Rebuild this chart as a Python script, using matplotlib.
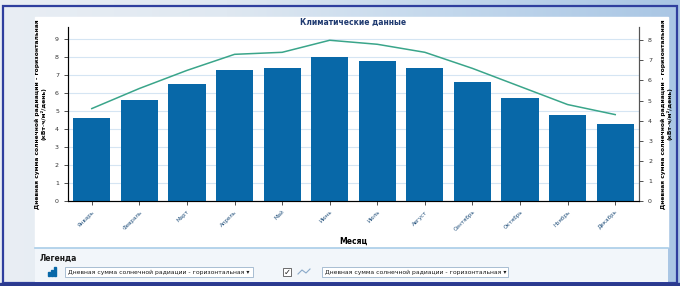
import matplotlib
matplotlib.use('Agg')
import matplotlib.pyplot as plt
import numpy as np
from matplotlib.patches import Rectangle
from matplotlib.colors import LinearSegmentedColormap

plt.rcParams['font.family'] = ['Liberation Sans Narrow', 'DejaVu Sans']

months = ['Январь', 'Февраль', 'Март', 'Апрель', 'Май', 'Июнь',
          'Июль', 'Август', 'Сентябрь', 'Октябрь', 'Ноябрь', 'Декабрь']
radiation = [4.6, 5.6, 6.5, 7.3, 7.4, 8.0, 7.8, 7.4, 6.6, 5.7, 4.8, 4.3]
left_ticks = list(range(0, 10))
right_ticks = list(range(0, 9))
series_name = 'Дневная сумма солнечной радиации - горизонтальная'
ylabel = series_name + '\n(кВт·ч/м²/день)'

W, H = 680, 286
fig = plt.figure(figsize=(W / 100, H / 100), dpi=100)


def fx(px):
    return px / W


def fy(py):
    return 1 - py / H


# background (sky-like gradient)
bg = fig.add_axes([0, 0, 1, 1])
grad = np.linspace(0, 1, 256)[None, :]
sky = LinearSegmentedColormap.from_list('sky', ['#e9eef4', '#dfe8f1', '#c2d7ec', '#a9c6e4'])
bg.imshow(grad, aspect='auto', cmap=sky, extent=[0, 1, 0, 1])
bg.set_xlim(0, 1)
bg.set_ylim(0, 1)
bg.axis('off')
# outer frame
bg.add_patch(Rectangle((fx(3), fy(283)), fx(674), (283 - 6) / H, fill=False,
                       ec='#2f3f9e', lw=1.6))
bg.add_patch(Rectangle((0, 0), 1, 3 / H, color='#2b3a8e'))
# white chart panel
bg.add_patch(Rectangle((fx(35), fy(247)), fx(633), (247 - 17) / H, color='white'))
# legend panel
bg.add_patch(Rectangle((fx(35), fy(282)), fx(633), (282 - 248) / H, fc='#f2f6fa',
                       ec='none'))
bg.plot([fx(35), fx(668)], [fy(248), fy(248)], color='#a9cde8', lw=1.2)
bg.text(fx(40), fy(258), 'Легенда', fontsize=5.5, fontweight='bold', color='#1a1a1a',
        va='center')
# legend items
for i, h in enumerate([3, 5, 7]):
    bg.add_patch(Rectangle((fx(48 + i * 3), fy(276)), fx(2), h * 1.3 / H, color='#0868a8'))
bg.add_patch(Rectangle((fx(65), fy(277)), fx(188), 10 / H, fc='white', ec='#9bb4cc', lw=0.6))
bg.text(fx(68), fy(272), series_name + ' ▾', fontsize=4.4, va='center', color='#1a1a1a')
bg.add_patch(Rectangle((fx(283), fy(276)), fx(8), 8 / H, fc='white', ec='#555555', lw=0.6))
bg.text(fx(287), fy(272.5), '✓', fontsize=6, ha='center', va='center', color='#222222',
        family='DejaVu Sans')
bg.plot([fx(298), fx(302), fx(306), fx(310)], [fy(274), fy(270), fy(273), fy(269)],
        color='#8aa9c9', lw=0.8)
bg.add_patch(Rectangle((fx(322), fy(277)), fx(186), 10 / H, fc='white', ec='#9bb4cc', lw=0.6))
bg.text(fx(325), fy(272), series_name + ' ▾', fontsize=4.4, va='center', color='#1a1a1a')

# chart
ax = fig.add_axes([fx(68), fy(201), fx(639 - 68), (201 - 27) / H])
ax.set_facecolor('white')
x = np.arange(len(months))
ax.bar(x, radiation, width=0.78, color='#0868a8', zorder=3)
ax.set_xlim(-0.5, len(months) - 0.5)
ax.set_ylim(0, 9.67)
ax.set_yticks(left_ticks)
ax.grid(axis='y', color='#d5e5f3', lw=0.8, zorder=0)
ax.set_xticks(x)
ax.set_xticklabels(months, rotation=45, ha='right', rotation_mode='anchor',
                   fontsize=4.0, color='#1f4e7a')
ax.tick_params(axis='y', labelsize=4.5, length=3, width=0.6, colors='#333333')
ax.tick_params(axis='x', length=3, width=0.6, pad=3, colors='#333333',
               labelcolor='#1f4e7a')
ax.spines['top'].set_visible(False)
for s in ['left', 'bottom', 'right']:
    ax.spines[s].set_color('#555555')
    ax.spines[s].set_linewidth(0.8)
ax.set_xlabel('Месяц', fontsize=5.5, fontweight='bold', labelpad=3)
ax.set_ylabel(ylabel, fontsize=4.3, fontweight='bold', labelpad=6, linespacing=1.15)
ax.set_title('Климатические данные', fontsize=5.5, fontweight='bold',
             color='#1f3a70', pad=1)

ax2 = ax.twinx()
ax2.plot(x, radiation, color='#3aa58a', lw=1.1, zorder=4)
ax2.set_ylim(0, 8.66)
ax2.set_yticks(right_ticks)
ax2.tick_params(axis='y', labelsize=4.5, length=3, width=0.6, colors='#333333')
ax2.spines['top'].set_visible(False)
ax2.spines['right'].set_color('#555555')
ax2.set_ylabel(ylabel, fontsize=4.3, fontweight='bold', labelpad=6, rotation=90,
               linespacing=1.15)

fig.savefig('out.png', dpi=100)
